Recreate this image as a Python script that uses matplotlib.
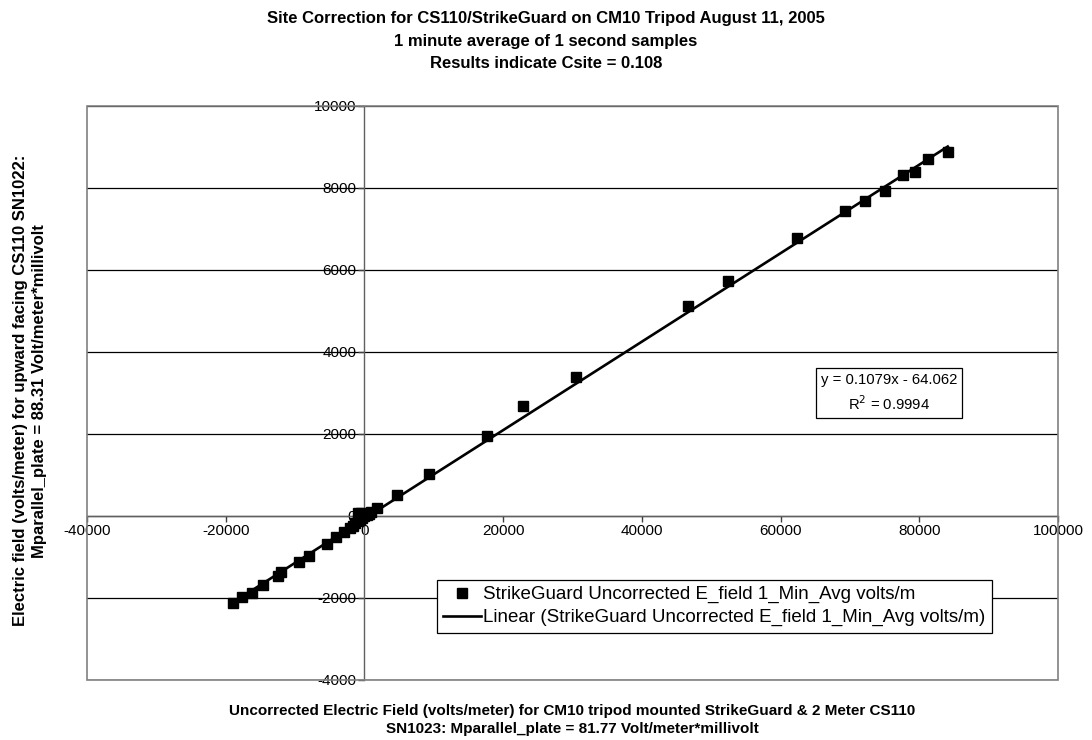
'''
  Site correction scatter: StrikeGuard vs CS110 field readings with linear fit.
'''
import matplotlib
matplotlib.use("Agg")
import matplotlib.pyplot as plt
from matplotlib.patches import Rectangle

plt.rcParams['font.family'] = ['Liberation Sans', 'DejaVu Sans']
plt.rcParams['axes.unicode_minus'] = False

# 1 minute averages (volts/meter)
strikeguard_x = [-18990, -17650, -16200, -14580, -12500, -12100, -9380, -8050,
                 -5440, -4090, -2900, -2100, -1700, -1300, -900, -600, -300,
                 0, 300, 700, 1000, -1000, -500, 1770, 4700, 9360, 17720,
                 22910, 30510, 46610, 52380, 62410, 69300, 72180, 75060,
                 77700, 79380, 81300, 84100]
cs110_y = [-2115, -1985, -1875, -1680, -1470, -1360, -1118, -978,
           -675, -522, -400, -300, -240, -180, -130, -90, -50,
           -10, 20, 50, 90, 80, 70, 195, 515, 1018, 1961,
           2686, 3387, 5111, 5739, 6781, 7448, 7692, 7937,
           8327, 8393, 8718, 8882]

# trendline as reported by the spreadsheet
slope = 0.1079
intercept = -64.062
r_squared = 0.9994

x_ticks = [-40000, -20000, 0, 20000, 40000, 60000, 80000, 100000]
y_ticks = [-4000, -2000, 0, 2000, 4000, 6000, 8000, 10000]

series_name = "StrikeGuard Uncorrected E_field 1_Min_Avg volts/m"

fig = plt.figure(figsize=(10.92, 7.4), dpi=100)
ax = fig.add_axes([0.0797, 0.0811, 0.8892, 0.7757])

ax.set_xlim(x_ticks[0], x_ticks[-1])
ax.set_ylim(y_ticks[0], y_ticks[-1])
ax.set_xticks(x_ticks)
ax.set_yticks(y_ticks)

# horizontal gridlines only
ax.yaxis.grid(True, color='black', lw=0.9)
ax.set_axisbelow(True)

# axes cross at the origin, plot area gets a grey frame
ax.spines['left'].set_position(('data', 0))
ax.spines['bottom'].set_position(('data', 0))
ax.spines['top'].set_visible(False)
ax.spines['right'].set_visible(False)
for s in ('left', 'bottom'):
  ax.spines[s].set_color('#606060')
  ax.spines[s].set_linewidth(1.0)
ax.add_patch(Rectangle((0, 0), 1, 1, transform=ax.transAxes, fill=False,
                       edgecolor='#808080', lw=1.2, clip_on=False, zorder=5))

ax.tick_params(direction='out', length=4, width=1, color='#404040',
               labelsize=11, pad=2)

ax.plot(strikeguard_x, cs110_y, 's', color='black', markersize=6.5,
        label=series_name, zorder=3)

x_lo, x_hi = min(strikeguard_x), max(strikeguard_x)
ax.plot([x_lo, x_hi], [slope * x_lo + intercept, slope * x_hi + intercept],
        '-', color='black', lw=1.9, zorder=4,
        label="Linear (" + series_name + ")")

ax.text(0.826, 0.5, "y = %.4fx - %.3f\nR$^2$ = %.4f" % (slope, -intercept, r_squared),
        transform=ax.transAxes, ha='center', va='center', fontsize=10.7,
        linespacing=1.5,
        bbox=dict(boxstyle='square,pad=0.3', fc='white', ec='black', lw=0.9))

leg = ax.legend(loc='lower left', bbox_to_anchor=(0.360, 0.082), fontsize=13.5,
                fancybox=False, framealpha=1, edgecolor='black',
                borderaxespad=0, handlelength=2.0, handletextpad=0.15,
                borderpad=0.35, labelspacing=0.3)
leg.get_frame().set_linewidth(0.9)
leg.set_zorder(6)

fig.text(0.5, 0.985, "Site Correction for CS110/StrikeGuard on CM10 Tripod August 11, 2005\n"
         "1 minute average of 1 second samples\nResults indicate Csite = 0.108",
         ha='center', va='top', fontsize=12, fontweight='bold', linespacing=1.62)

fig.text(0.524, 0.006, "Uncorrected Electric Field (volts/meter) for CM10 tripod mounted StrikeGuard & 2 Meter CS110\n"
         "SN1023: Mparallel_plate = 81.77 Volt/meter*millivolt",
         ha='center', va='bottom', fontsize=11, fontweight='bold', linespacing=1.3)

fig.text(0.0115, 0.472, "Electric field (volts/meter) for upward facing CS110 SN1022:\n"
         "Mparallel_plate = 88.31 Volt/meter*millivolt",
         ha='left', va='center', rotation=90, fontsize=12, fontweight='bold',
         linespacing=1.4, multialignment='center')

fig.savefig("out.png", dpi=100)
